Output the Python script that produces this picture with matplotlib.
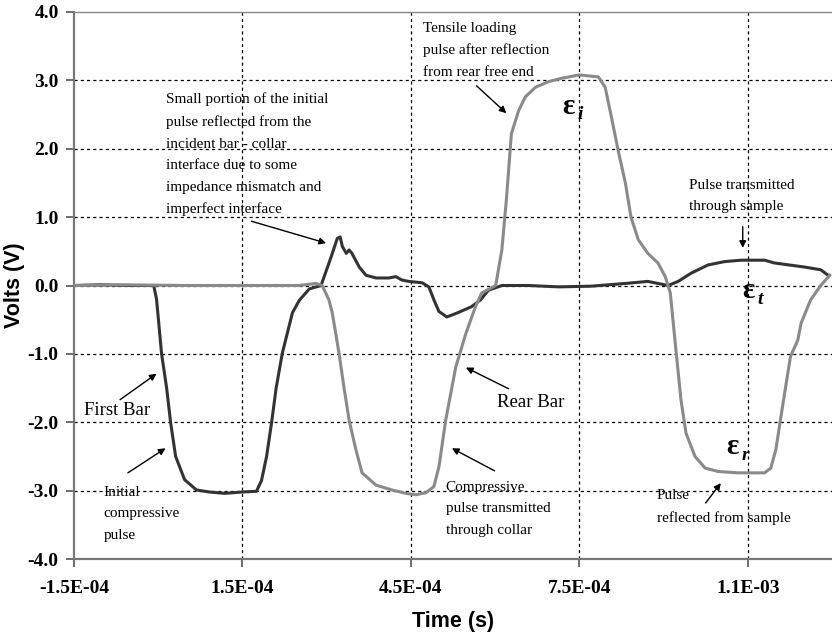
import numpy as np
import matplotlib
matplotlib.use("Agg")
import matplotlib.pyplot as plt

# time in microseconds, voltage in volts
first_bar_t = [-150, -104, -51, -8, -3, 6, 15, 22, 31, 47,
               68, 91, 118, 150, 175, 184, 193, 202, 210, 221,
               239, 251, 269, 290, 308, 319, 324, 328, 335, 340,
               345, 358, 370, 388, 411, 423, 434, 446, 470, 482,
               491, 500, 514, 530, 558, 574, 588, 612, 659, 713,
               771, 832, 872, 908, 926, 949, 979, 1009, 1038, 1080,
               1097, 1151, 1180, 1193]
first_bar_v = [0.0, 0.01, 0.0, 0.0, -0.2, -1.0, -1.5, -2.0, -2.5, -2.84,
               -2.99, -3.02, -3.04, -3.02, -3.01, -2.85, -2.5, -2.0, -1.5, -0.99,
               -0.4, -0.22, -0.05, 0.0, 0.42, 0.69, 0.71, 0.57, 0.47, 0.52,
               0.47, 0.27, 0.15, 0.11, 0.11, 0.13, 0.08, 0.06, 0.04, -0.02,
               -0.21, -0.38, -0.46, -0.41, -0.31, -0.21, -0.07, 0.0, 0.0, -0.02,
               -0.01, 0.03, 0.06, 0.0, 0.06, 0.18, 0.3, 0.35, 0.37, 0.37,
               0.33, 0.27, 0.23, 0.15]

rear_bar_t = [-150, -60, 50, 160, 250, 281, 292, 304, 310, 322,
              331, 340, 352, 363, 388, 416, 441, 459, 477, 491,
              500, 512, 530, 548, 565, 576, 601, 612, 620, 629,
              642, 654, 672, 695, 718, 750, 784, 796, 807, 819,
              832, 842, 855, 872, 890, 903, 912, 922, 931, 940,
              956, 974, 997, 1032, 1080, 1091, 1100, 1109, 1126, 1139,
              1145, 1162, 1180, 1196]
rear_bar_v = [0.0, 0.01, 0.0, 0.0, 0.0, 0.03, 0.0, -0.21, -0.4, -0.99,
              -1.5, -1.97, -2.4, -2.74, -2.92, -2.99, -3.04, -3.06, -3.03, -2.94,
              -2.65, -1.97, -1.19, -0.7, -0.31, -0.11, 0.0, 0.52, 1.25, 2.22,
              2.56, 2.76, 2.9, 2.98, 3.03, 3.08, 3.05, 2.9, 2.47, 1.98,
              1.5, 1.0, 0.67, 0.47, 0.33, 0.13, -0.11, -0.94, -1.67, -2.16,
              -2.5, -2.67, -2.72, -2.74, -2.74, -2.67, -2.4, -1.92, -1.04, -0.8,
              -0.55, -0.21, 0.0, 0.15]

x_ticks = [-1.5e-4, 1.5e-4, 4.5e-4, 7.5e-4, 1.05e-3]
x_tick_labels = ["-1.5E-04", "1.5E-04", "4.5E-04", "7.5E-04", "1.1E-03"]
y_ticks = [-4, -3, -2, -1, 0, 1, 2, 3, 4]
y_tick_labels = ["-4.0", "-3.0", "-2.0", "-1.0", "0.0", "1.0", "2.0", "3.0", "4.0"]

# (text, left x in us, top y in V, size)
notes = [
    ("Small portion of the initial\npulse reflected from the\nincident bar - collar\n"
     "interface due to some\nimpedance mismatch and\nimperfect interface", 13, 2.82, 11),
    ("Tensile loading\npulse after reflection\nfrom rear free end", 471, 3.86, 11),
    ("Pulse transmitted\nthrough sample", 945, 1.56, 11),
    ("Initial\ncompressive\npulse", -97, -2.93, 11),
    ("Compressive\npulse transmitted\nthrough collar", 512, -2.86, 11),
    ("Pulse\nreflected from sample", 888, -2.98, 11),
    ("First Bar", -132, -1.71, 13.5),
    ("Rear Bar", 604, -1.58, 13.5),
]
# arrows: (tail, head) in (us, V)
arrows = [
    ((166, 0.94), (299, 0.62)),
    ((567, 2.92), (620, 2.52)),
    ((1041, 0.86), (1041, 0.55)),
    ((-68, -1.67), (-3, -1.29)),
    ((-54, -2.74), (13, -2.38)),
    ((624, -1.51), (548, -1.20)),
    ((599, -2.71), (523, -2.38)),
    ((975, -3.18), (1002, -2.89)),
]
# strain labels: (subscript, x us, y V)
strain_labels = [("i", 720, 2.62), ("t", 1040, -0.08), ("r", 1011, -2.36)]

us = 1e-6
serif = "Liberation Serif"
sans = "Liberation Sans"

fig = plt.figure(figsize=(8.32, 6.34), dpi=100)
ax = fig.add_axes([74 / 832, 75 / 634, 758 / 832, 547 / 634])

ax.plot(np.array(first_bar_t) * us, first_bar_v, color="#333333", lw=2.2, zorder=3)
ax.plot(np.array(rear_bar_t) * us, rear_bar_v, color="#8a8a8a", lw=2.2, zorder=4)

ax.set_xlim(-1.5e-4, 1.2e-3)
ax.set_ylim(-4, 4)
ax.set_xticks(x_ticks)
ax.set_xticklabels(x_tick_labels, fontfamily=serif, fontweight="bold", fontsize=14)
ax.set_yticks(y_ticks)
ax.set_yticklabels(y_tick_labels, fontfamily=serif, fontweight="bold", fontsize=14)
ax.tick_params(axis="x", direction="out", length=6, width=1.2, color="#555555", pad=9)
ax.tick_params(axis="y", direction="out", length=6, width=1.2, color="#555555", pad=5)

for y in y_ticks[1:-1]:
    ax.axhline(y, color="black", lw=0.9, ls=(0, (2.5, 2.5)), zorder=1)
for x in x_ticks[1:]:
    ax.axvline(x, color="black", lw=0.9, ls=(0, (2.5, 2.5)), zorder=1)

ax.spines["right"].set_visible(False)
ax.spines["top"].set_color("#888888")
ax.spines["top"].set_linewidth(1.0)
for side in ["left", "bottom"]:
    ax.spines[side].set_color("#777777")
    ax.spines[side].set_linewidth(1.6)

ax.set_xlabel("Time (s)", fontfamily=sans, fontweight="bold", fontsize=15.5, labelpad=10)
ax.set_ylabel("Volts (V)", fontfamily=sans, fontweight="bold", fontsize=15.5)
ax.yaxis.set_label_coords(-0.064, 0.5)

for text, x, y, size in notes:
    ax.text(x * us, y, text, fontfamily=serif, fontsize=size, ha="left", va="top",
            linespacing=1.84, zorder=5)

for (tx, ty), (hx, hy) in arrows:
    ax.annotate("", xy=(hx * us, hy), xytext=(tx * us, ty),
                arrowprops=dict(arrowstyle="-|>", color="black", lw=1.0,
                                mutation_scale=10, shrinkA=0, shrinkB=0), zorder=5)

for sub, x, y in strain_labels:
    ax.text(x * us, y, "\u03b5", fontfamily=serif, fontweight="bold", fontsize=21,
            ha="left", va="center", zorder=5)
    ax.annotate(sub, xy=(x * us, y), xytext=(11, -6), textcoords="offset points",
                fontfamily=serif, fontweight="bold", fontstyle="italic", fontsize=14,
                ha="left", va="center", zorder=5)

fig.savefig("out.png", dpi=100)
